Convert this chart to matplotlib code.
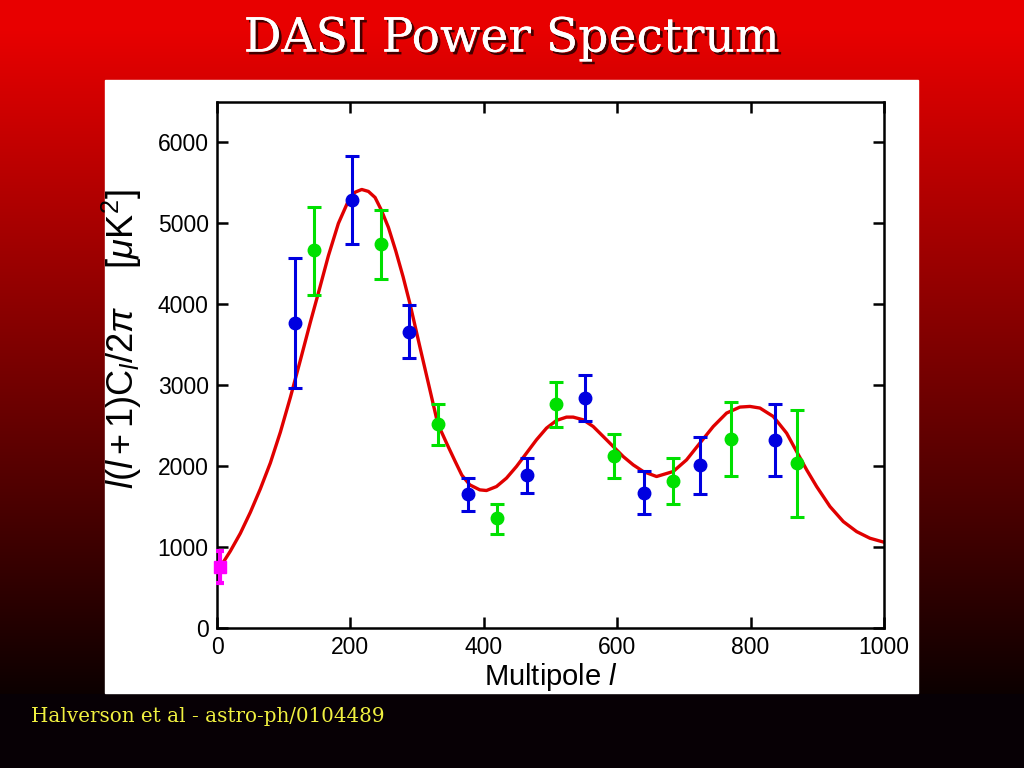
import numpy as np
import matplotlib
matplotlib.use("Agg")
from matplotlib import pyplot as plt
from matplotlib import patheffects as pe

# DASI band powers (blue and green interleaved bins)
blue_l = [117, 202, 288, 376, 465, 552, 640, 724, 837]
blue_p = [3773, 5283, 3662, 1658, 1893, 2845, 1670, 2016, 2326]
blue_hi = [4577, 5827, 3996, 1856, 2103, 3130, 1942, 2363, 2771]
blue_lo = [2969, 4751, 3340, 1447, 1670, 2561, 1410, 1658, 1880]

green_l = [145, 246, 331, 420, 508, 595, 684, 771, 870]
green_p = [4676, 4751, 2524, 1361, 2771, 2128, 1819, 2338, 2041]
green_hi = [5208, 5171, 2771, 1534, 3043, 2400, 2103, 2796, 2697]
green_lo = [4120, 4318, 2264, 1163, 2487, 1856, 1534, 1880, 1373]

# COBE point at low l
cobe_l = [5]
cobe_p = [755]
cobe_hi = [950]
cobe_lo = [560]

# best-fit model curve
model_l = [5, 20, 35, 50, 65, 80, 95, 110, 125, 140, 152, 167, 182, 197, 207,
           217, 227, 237, 246, 257, 268, 279, 289, 304, 319, 331, 345, 357, 367,
           379, 394, 404, 419, 434, 449, 464, 479, 494, 509, 524, 534, 549, 564,
           579, 594, 609, 624, 639, 659, 684, 704, 724, 744, 764, 784, 799, 814,
           834, 854, 869, 884, 899, 919, 939, 959, 979, 1000]
model_p = [755, 950, 1170, 1430, 1720, 2040, 2420, 2850, 3310, 3780, 4140, 4600,
           5000, 5280, 5385, 5419, 5395, 5320, 5171, 4950, 4660, 4340, 4017, 3480,
           2950, 2524, 2270, 2060, 1890, 1769, 1707, 1699, 1748, 1852, 1996, 2161,
           2326, 2470, 2565, 2606, 2606, 2573, 2490, 2367, 2243, 2119, 2016, 1934,
           1872, 1934, 2078, 2285, 2490, 2656, 2730, 2738, 2718, 2614, 2408, 2181,
           1955, 1748, 1501, 1315, 1191, 1109, 1060]

fig = plt.figure(figsize=(10.24, 7.68), dpi=100)

# red to black background
bg = fig.add_axes([0, 0, 1, 1])
bg.set_axis_off()
ramp = np.linspace(0, 1, 768)
r = np.clip(0.91 - 0.86 * (ramp - 0.04) / 0.86, 0.04, 0.91)
img = np.zeros((768, 1, 3))
img[:, 0, 0] = r
img[ramp > 0.904, 0, :] = [0.03, 0.0, 0.02]
bg.imshow(img, aspect="auto", extent=[0, 1, 0, 1], origin="upper")
bg.set_xlim(0, 1)
bg.set_ylim(0, 1)

# white panel
bg.add_patch(plt.Rectangle((105 / 1024, 1 - 693 / 768), (918 - 105) / 1024,
                           (693 - 80) / 768, color="white", zorder=2))

bg.text(0.5, 1 - 39 / 768, "DASI Power Spectrum", ha="center", va="center",
        color="white", fontsize=34, family="DejaVu Serif", zorder=3,
        path_effects=[pe.withSimplePatchShadow(offset=(2, -2), shadow_rgbFace="#300000", alpha=0.9),
                      pe.Normal()])
bg.text(31 / 1024, 1 - 717 / 768, "Halverson et al - astro-ph/0104489", ha="left",
        va="center", color="#f0f040", fontsize=14.3, family="DejaVu Serif", zorder=3)

plt.rcParams["mathtext.fontset"] = "custom"
plt.rcParams["mathtext.rm"] = "Liberation Sans"
plt.rcParams["mathtext.it"] = "Liberation Sans:italic"

ax = fig.add_axes([217 / 1024, 1 - 628 / 768, (884 - 217) / 1024, (628 - 102) / 768])
ax.plot(model_l, model_p, color="#e00000", lw=2.4, zorder=2,
        solid_joinstyle="round", solid_capstyle="round")

def band(ax, l, p, lo, hi, color, marker, ms=9, lw=2.2, cap=5):
    p = np.array(p)
    err = [p - np.array(lo), np.array(hi) - p]
    parts = ax.errorbar(l, p, yerr=err, fmt=marker, color=color, ms=ms, elinewidth=lw,
                        capsize=cap, capthick=lw, zorder=4)
    for a in parts.get_children():
        a.set_clip_on(False)

band(ax, blue_l, blue_p, blue_lo, blue_hi, "#0000e0", "o")
band(ax, green_l, green_p, green_lo, green_hi, "#00e000", "o")
band(ax, cobe_l, cobe_p, cobe_lo, cobe_hi, "#ff00ff", "s", ms=9, lw=3, cap=3)

ax.set_xlim(0, 1000)
ax.set_ylim(0, 6500)
ax.set_xticks(range(0, 1001, 200))
ax.set_yticks(range(0, 6001, 1000))
ax.tick_params(direction="in", length=8, width=1.8, top=True, right=True,
               labelsize=16.5, pad=6)
for lab in ax.get_xticklabels() + ax.get_yticklabels():
    lab.set_family("Liberation Sans")
for s in ax.spines.values():
    s.set_linewidth(1.8)
ax.set_xlabel(r"Multipole $\mathit{l}$", fontsize=21, family="Liberation Sans", labelpad=1)
ax.set_ylabel(r"$\mathit{l}(\mathit{l}+1)\mathrm{C}_{\mathit{l}}/2\pi\ \ \ \ [\mu\mathrm{K}^2]$",
              fontsize=26, family="Liberation Sans")
ax.yaxis.set_label_coords(-0.11, 0.55)

fig.savefig("out.png", dpi=100)
